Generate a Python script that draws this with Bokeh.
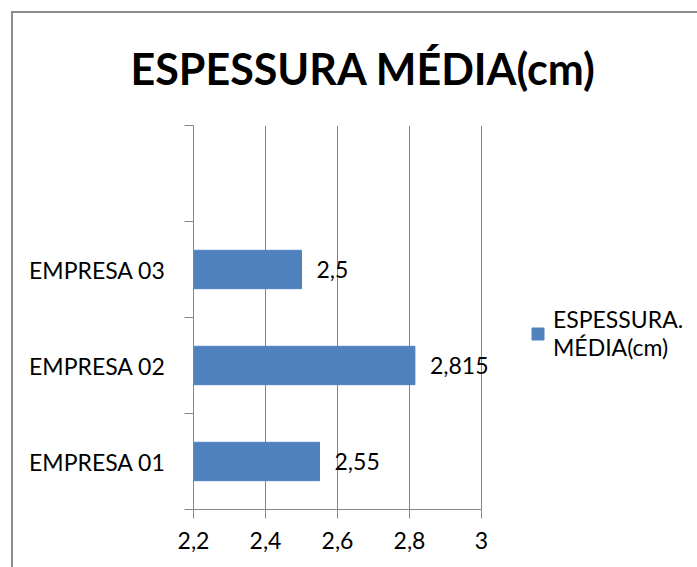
from bokeh.plotting import figure
from bokeh.models import (Range1d, FixedTicker, ColumnDataSource, LabelSet,
                          Legend, LegendItem, Title)
from bokeh.core.properties import value
from bokeh.embed import file_html
from bokeh.resources import INLINE

# ---- data ----
categories = ["EMPRESA 01", "EMPRESA 02", "EMPRESA 03"]
values = [2.55, 2.815, 2.5]
value_labels = ["2,55", "2,815", "2,5"]
x_ticks = [2.2, 2.4, 2.6, 2.8, 3.0]
x_tick_labels = ["2,2", "2,4", "2,6", "2,8", "3"]
series_name = "ESPESSURA.\nMÉDIA(cm)"
title_text = "ESPESSURA MÉDIA(cm)"

FONT = "Lato"
BAR = "#4F81BD"
GRAY = "#868686"

n_slots = len(categories) + 1          # one empty slot on top, as in the original
ypos = [i + 0.5 for i in range(len(categories))]

source = ColumnDataSource(dict(y=ypos, right=values, cat=categories, lab=value_labels,
                               left=[x_ticks[0]] * len(values)))

# the frame also holds the legend area to the right; the axis stops at the last tick
p = figure(width=684, height=554, output_backend="svg", toolbar_location=None,
           x_range=Range1d(x_ticks[0], 3.6), y_range=Range1d(0, n_slots),
           min_border_left=180, min_border_top=111, min_border_right=0,
           min_border_bottom=58, margin=(13, 0, 0, 13),
           styles={"outline": "2px solid #8c8c8c"})
p.outline_line_color = None
p.background_fill_color = "white"
p.border_fill_color = "white"

r = p.hbar(y="y", left="left", right="right", height=0.4, source=source,
           fill_color=BAR, line_color=BAR)

labels = LabelSet(x="right", y="y", text="lab", source=source, x_offset=15,
                  text_baseline="middle", text_font=value(FONT),
                  text_font_size=value("23px"), text_color="black")
p.add_layout(labels)

# x axis
p.xaxis.ticker = FixedTicker(ticks=x_ticks, minor_ticks=[])
p.xaxis.bounds = (x_ticks[0], x_ticks[-1])
p.xaxis.major_label_overrides = {t: l for t, l in zip(x_ticks, x_tick_labels)}
p.xaxis.axis_line_color = GRAY
p.xaxis.major_tick_line_color = GRAY
p.xaxis.major_tick_in = 0
p.xaxis.major_tick_out = 9
p.xaxis.major_label_standoff = 13
p.xaxis.major_label_text_font = FONT
p.xaxis.major_label_text_font_size = "23px"
p.xaxis.major_label_text_color = "black"

# y axis: labels at slot centres, tick marks at slot boundaries
p.yaxis.ticker = FixedTicker(ticks=ypos, minor_ticks=list(range(n_slots + 1)))
p.yaxis.major_label_overrides = {y: c for y, c in zip(ypos, categories)}
p.yaxis.axis_line_color = GRAY
p.yaxis.major_tick_line_color = None
p.yaxis.major_tick_in = 0
p.yaxis.major_tick_out = 0
p.yaxis.minor_tick_line_color = GRAY
p.yaxis.minor_tick_in = 0
p.yaxis.minor_tick_out = 9
p.yaxis.major_label_standoff = 19
p.yaxis.major_label_text_font = FONT
p.yaxis.major_label_text_font_size = "23px"
p.yaxis.major_label_text_color = "black"

p.xgrid.ticker = FixedTicker(ticks=x_ticks)
p.xgrid.grid_line_color = GRAY
p.ygrid.grid_line_color = None

# title
p.title = Title(text=title_text, align="left", offset=-63, standoff=59,
                vertical_align="top",
                text_font=FONT, text_font_style="bold", text_font_size="43px",
                text_color="black")

legend = Legend(items=[LegendItem(label=series_name, renderers=[r])],
                location=(337, 148), margin=0, padding=0, border_line_color=None,
                background_fill_alpha=0, glyph_width=15, glyph_height=15,
                label_standoff=8, label_text_font=FONT, label_text_font_size="23px",
                label_text_color="black")
p.add_layout(legend)

open("out.html", "w").write(file_html(p, INLINE))
